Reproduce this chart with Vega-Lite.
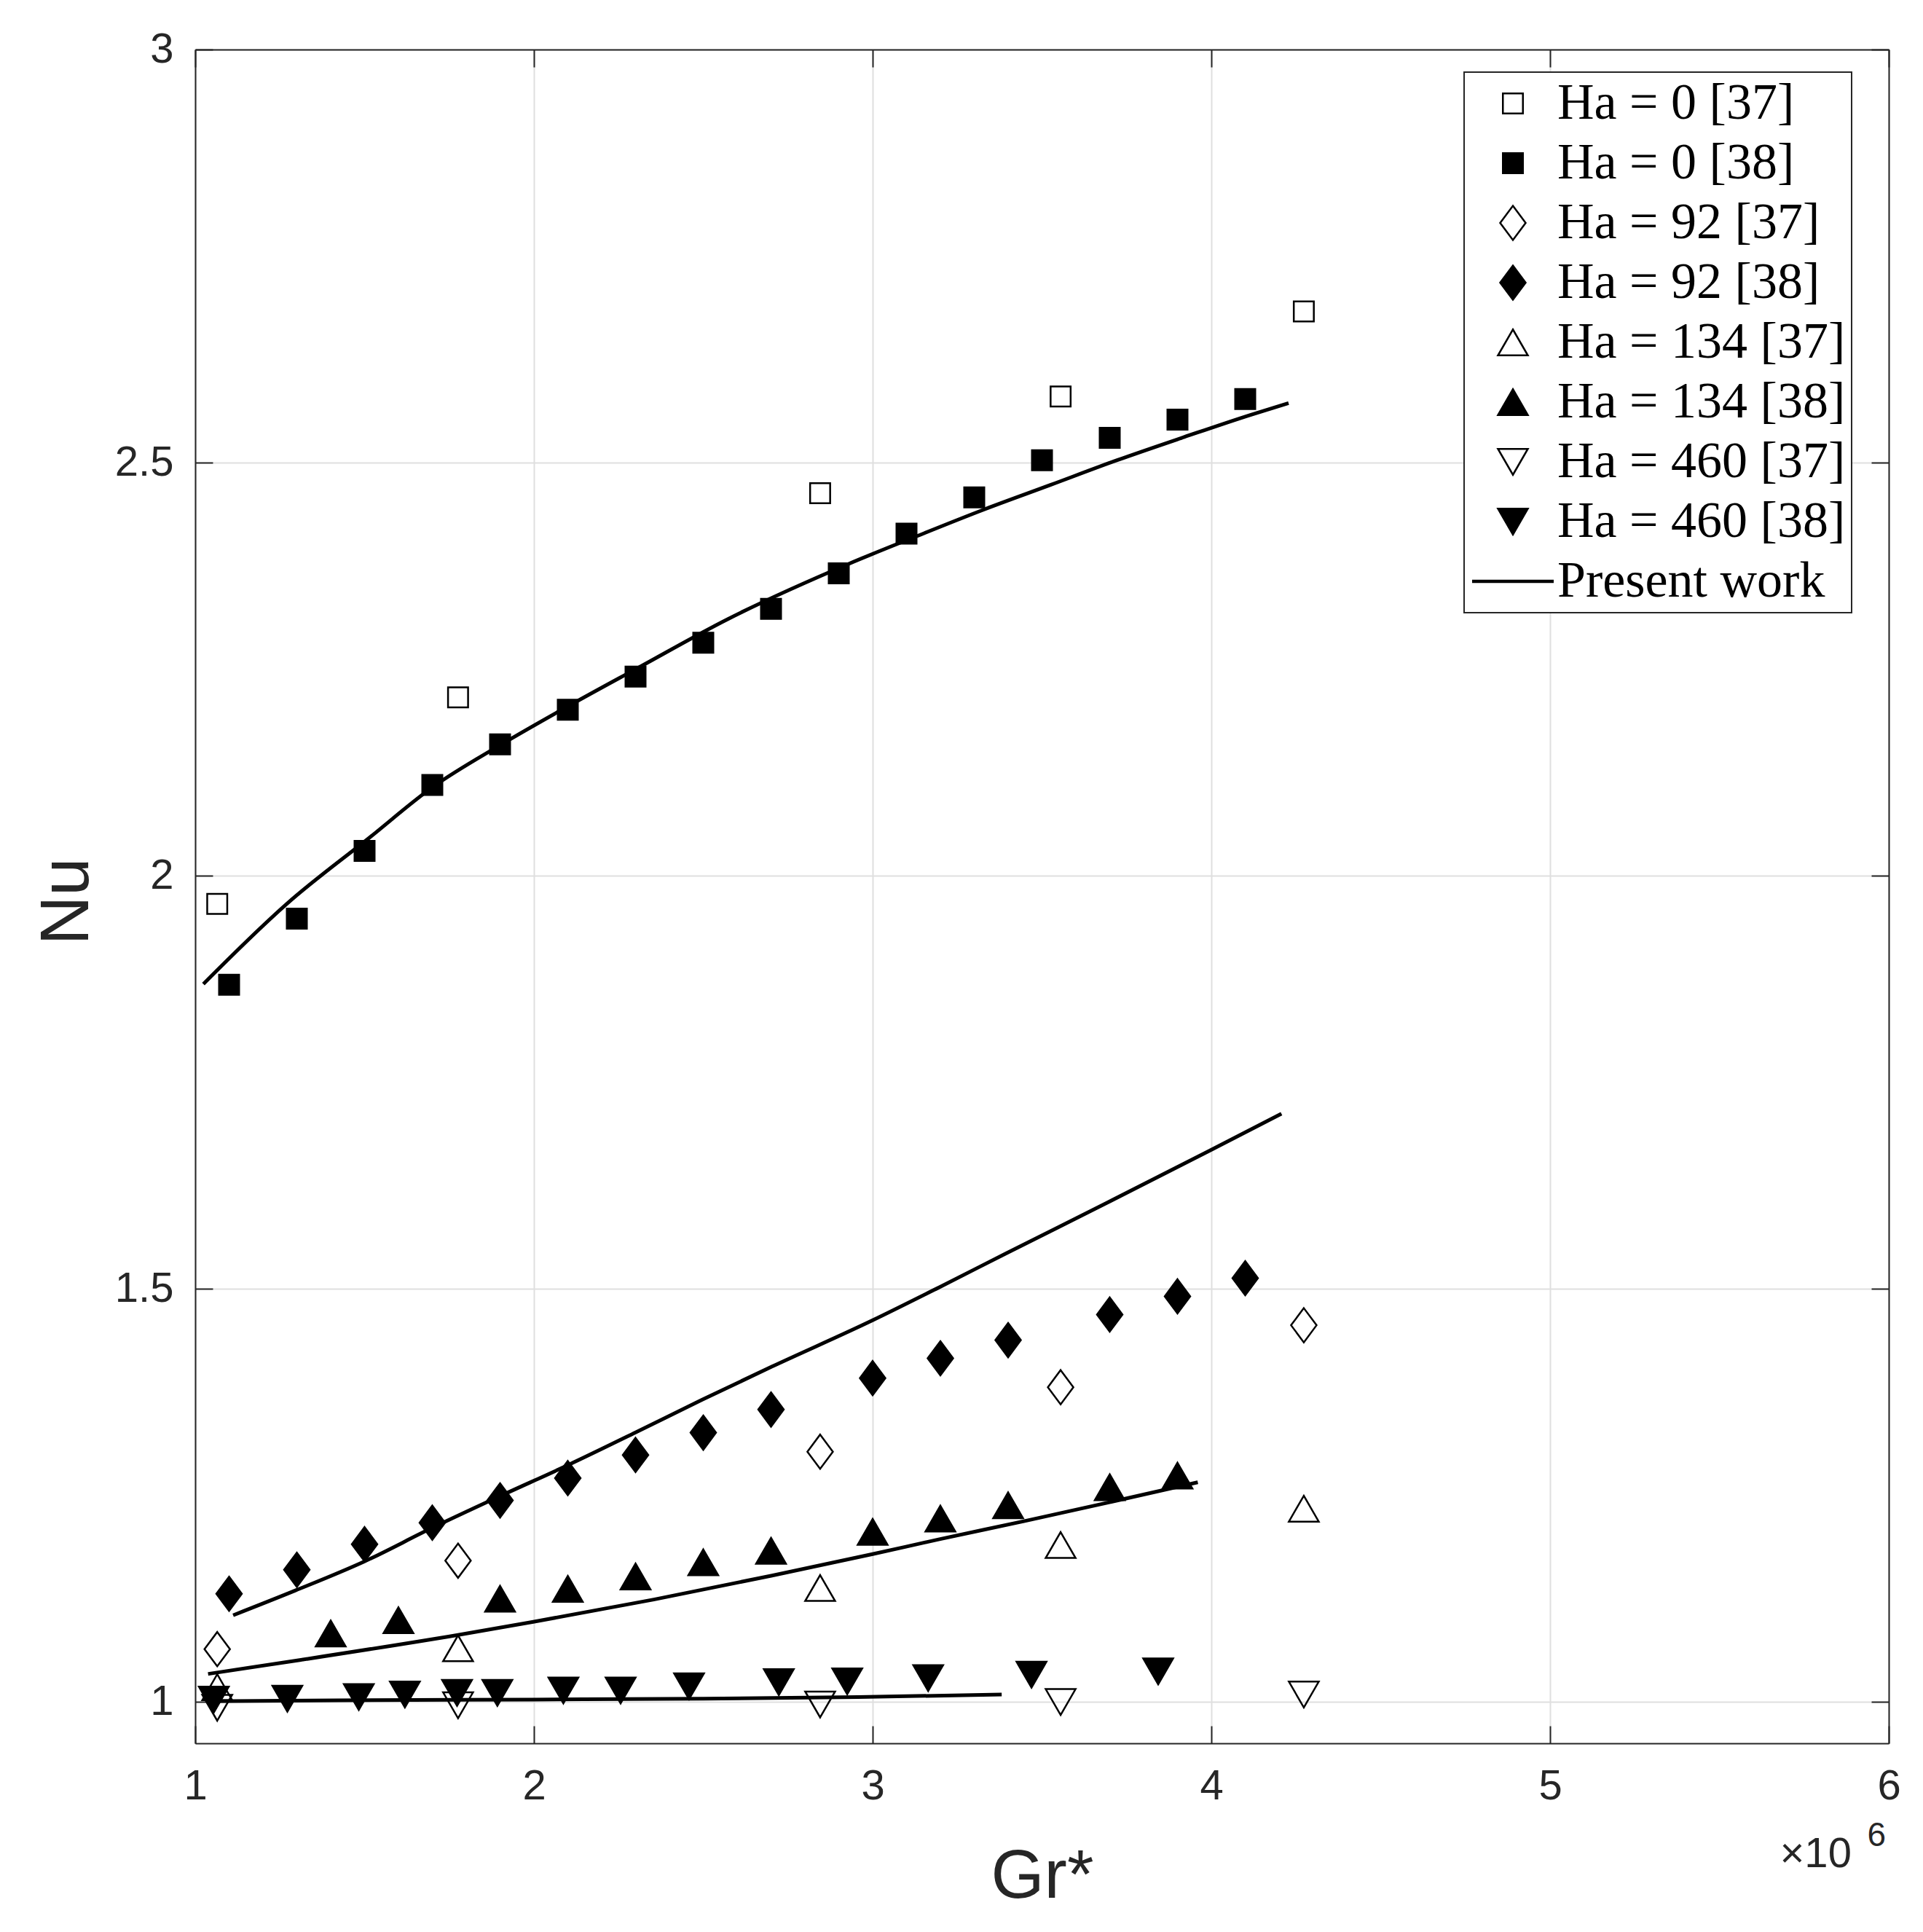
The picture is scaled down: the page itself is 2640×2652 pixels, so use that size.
{
  "$schema": "https://vega.github.io/schema/vega-lite/v6.json",
  "width": 2325,
  "height": 2325,
  "autosize": {"type": "none"},
  "padding": {"left": 268, "top": 68, "right": 47, "bottom": 259},
  "background": "white",
  "datasets": {
    "points": [
      {"series": "Ha = 0 [37]", "gr": 1.065, "nu": 1.966},
      {"series": "Ha = 0 [37]", "gr": 1.776, "nu": 2.216},
      {"series": "Ha = 0 [37]", "gr": 2.845, "nu": 2.463},
      {"series": "Ha = 0 [37]", "gr": 3.555, "nu": 2.58},
      {"series": "Ha = 0 [37]", "gr": 4.273, "nu": 2.683},
      {"series": "Ha = 0 [38]", "gr": 1.1, "nu": 1.868},
      {"series": "Ha = 0 [38]", "gr": 1.3, "nu": 1.948},
      {"series": "Ha = 0 [38]", "gr": 1.5, "nu": 2.03},
      {"series": "Ha = 0 [38]", "gr": 1.7, "nu": 2.11},
      {"series": "Ha = 0 [38]", "gr": 1.9, "nu": 2.159},
      {"series": "Ha = 0 [38]", "gr": 2.1, "nu": 2.201},
      {"series": "Ha = 0 [38]", "gr": 2.3, "nu": 2.241},
      {"series": "Ha = 0 [38]", "gr": 2.5, "nu": 2.282},
      {"series": "Ha = 0 [38]", "gr": 2.7, "nu": 2.323},
      {"series": "Ha = 0 [38]", "gr": 2.9, "nu": 2.366},
      {"series": "Ha = 0 [38]", "gr": 3.1, "nu": 2.414},
      {"series": "Ha = 0 [38]", "gr": 3.3, "nu": 2.458},
      {"series": "Ha = 0 [38]", "gr": 3.5, "nu": 2.503},
      {"series": "Ha = 0 [38]", "gr": 3.7, "nu": 2.53},
      {"series": "Ha = 0 [38]", "gr": 3.9, "nu": 2.552},
      {"series": "Ha = 0 [38]", "gr": 4.1, "nu": 2.577},
      {"series": "Ha = 92 [37]", "gr": 1.065, "nu": 1.064},
      {"series": "Ha = 92 [37]", "gr": 1.776, "nu": 1.171},
      {"series": "Ha = 92 [37]", "gr": 2.845, "nu": 1.303},
      {"series": "Ha = 92 [37]", "gr": 3.555, "nu": 1.381},
      {"series": "Ha = 92 [37]", "gr": 4.273, "nu": 1.456},
      {"series": "Ha = 92 [38]", "gr": 1.1, "nu": 1.131},
      {"series": "Ha = 92 [38]", "gr": 1.3, "nu": 1.16},
      {"series": "Ha = 92 [38]", "gr": 1.5, "nu": 1.191},
      {"series": "Ha = 92 [38]", "gr": 1.7, "nu": 1.217},
      {"series": "Ha = 92 [38]", "gr": 1.9, "nu": 1.244},
      {"series": "Ha = 92 [38]", "gr": 2.1, "nu": 1.271},
      {"series": "Ha = 92 [38]", "gr": 2.3, "nu": 1.299},
      {"series": "Ha = 92 [38]", "gr": 2.5, "nu": 1.326},
      {"series": "Ha = 92 [38]", "gr": 2.7, "nu": 1.354},
      {"series": "Ha = 92 [38]", "gr": 3.0, "nu": 1.392},
      {"series": "Ha = 92 [38]", "gr": 3.2, "nu": 1.416},
      {"series": "Ha = 92 [38]", "gr": 3.4, "nu": 1.438},
      {"series": "Ha = 92 [38]", "gr": 3.7, "nu": 1.469},
      {"series": "Ha = 92 [38]", "gr": 3.9, "nu": 1.491},
      {"series": "Ha = 92 [38]", "gr": 4.1, "nu": 1.513},
      {"series": "Ha = 134 [37]", "gr": 1.065, "nu": 1.018},
      {"series": "Ha = 134 [37]", "gr": 1.776, "nu": 1.065},
      {"series": "Ha = 134 [37]", "gr": 2.845, "nu": 1.138},
      {"series": "Ha = 134 [37]", "gr": 3.555, "nu": 1.19},
      {"series": "Ha = 134 [37]", "gr": 4.273, "nu": 1.234},
      {"series": "Ha = 134 [38]", "gr": 1.4, "nu": 1.083},
      {"series": "Ha = 134 [38]", "gr": 1.6, "nu": 1.099},
      {"series": "Ha = 134 [38]", "gr": 1.9, "nu": 1.125},
      {"series": "Ha = 134 [38]", "gr": 2.1, "nu": 1.137},
      {"series": "Ha = 134 [38]", "gr": 2.3, "nu": 1.152},
      {"series": "Ha = 134 [38]", "gr": 2.5, "nu": 1.169},
      {"series": "Ha = 134 [38]", "gr": 2.7, "nu": 1.183},
      {"series": "Ha = 134 [38]", "gr": 3.0, "nu": 1.206},
      {"series": "Ha = 134 [38]", "gr": 3.2, "nu": 1.222},
      {"series": "Ha = 134 [38]", "gr": 3.4, "nu": 1.238},
      {"series": "Ha = 134 [38]", "gr": 3.7, "nu": 1.26},
      {"series": "Ha = 134 [38]", "gr": 3.9, "nu": 1.274},
      {"series": "Ha = 460 [37]", "gr": 1.065, "nu": 0.993},
      {"series": "Ha = 460 [37]", "gr": 1.776, "nu": 0.996},
      {"series": "Ha = 460 [37]", "gr": 2.845, "nu": 0.997},
      {"series": "Ha = 460 [37]", "gr": 3.555, "nu": 1.0},
      {"series": "Ha = 460 [37]", "gr": 4.273, "nu": 1.009},
      {"series": "Ha = 460 [38]", "gr": 1.055, "nu": 1.003},
      {"series": "Ha = 460 [38]", "gr": 1.272, "nu": 1.004},
      {"series": "Ha = 460 [38]", "gr": 1.483, "nu": 1.006},
      {"series": "Ha = 460 [38]", "gr": 1.619, "nu": 1.009},
      {"series": "Ha = 460 [38]", "gr": 1.773, "nu": 1.011},
      {"series": "Ha = 460 [38]", "gr": 1.892, "nu": 1.011},
      {"series": "Ha = 460 [38]", "gr": 2.087, "nu": 1.014},
      {"series": "Ha = 460 [38]", "gr": 2.256, "nu": 1.014},
      {"series": "Ha = 460 [38]", "gr": 2.458, "nu": 1.019},
      {"series": "Ha = 460 [38]", "gr": 2.723, "nu": 1.024},
      {"series": "Ha = 460 [38]", "gr": 2.925, "nu": 1.025},
      {"series": "Ha = 460 [38]", "gr": 3.164, "nu": 1.029},
      {"series": "Ha = 460 [38]", "gr": 3.469, "nu": 1.033},
      {"series": "Ha = 460 [38]", "gr": 3.843, "nu": 1.037}
    ],
    "lines": [
      {"curve": "Ha = 0", "gr": 1.024, "nu": 1.869},
      {"curve": "Ha = 0", "gr": 1.273, "nu": 1.967},
      {"curve": "Ha = 0", "gr": 1.514, "nu": 2.046},
      {"curve": "Ha = 0", "gr": 1.7, "nu": 2.107},
      {"curve": "Ha = 0", "gr": 1.9, "nu": 2.158},
      {"curve": "Ha = 0", "gr": 2.1, "nu": 2.205},
      {"curve": "Ha = 0", "gr": 2.3, "nu": 2.25},
      {"curve": "Ha = 0", "gr": 2.574, "nu": 2.311},
      {"curve": "Ha = 0", "gr": 2.932, "nu": 2.378},
      {"curve": "Ha = 0", "gr": 3.13, "nu": 2.411},
      {"curve": "Ha = 0", "gr": 3.327, "nu": 2.443},
      {"curve": "Ha = 0", "gr": 3.525, "nu": 2.473},
      {"curve": "Ha = 0", "gr": 3.722, "nu": 2.503},
      {"curve": "Ha = 0", "gr": 3.92, "nu": 2.531},
      {"curve": "Ha = 0", "gr": 4.117, "nu": 2.558},
      {"curve": "Ha = 0", "gr": 4.228, "nu": 2.572},
      {"curve": "Ha = 92", "gr": 1.112, "nu": 1.105},
      {"curve": "Ha = 92", "gr": 1.296, "nu": 1.135},
      {"curve": "Ha = 92", "gr": 1.499, "nu": 1.17},
      {"curve": "Ha = 92", "gr": 1.696, "nu": 1.21},
      {"curve": "Ha = 92", "gr": 1.899, "nu": 1.249},
      {"curve": "Ha = 92", "gr": 2.102, "nu": 1.287},
      {"curve": "Ha = 92", "gr": 2.299, "nu": 1.326},
      {"curve": "Ha = 92", "gr": 2.497, "nu": 1.366},
      {"curve": "Ha = 92", "gr": 2.703, "nu": 1.406},
      {"curve": "Ha = 92", "gr": 3.0, "nu": 1.462},
      {"curve": "Ha = 92", "gr": 3.197, "nu": 1.502},
      {"curve": "Ha = 92", "gr": 3.394, "nu": 1.543},
      {"curve": "Ha = 92", "gr": 3.691, "nu": 1.604},
      {"curve": "Ha = 92", "gr": 3.998, "nu": 1.668},
      {"curve": "Ha = 92", "gr": 4.207, "nu": 1.712},
      {"curve": "Ha = 134", "gr": 1.038, "nu": 1.034},
      {"curve": "Ha = 134", "gr": 1.312, "nu": 1.051},
      {"curve": "Ha = 134", "gr": 1.773, "nu": 1.081},
      {"curve": "Ha = 134", "gr": 1.998, "nu": 1.097},
      {"curve": "Ha = 134", "gr": 2.354, "nu": 1.124},
      {"curve": "Ha = 134", "gr": 2.703, "nu": 1.153},
      {"curve": "Ha = 134", "gr": 3.0, "nu": 1.179},
      {"curve": "Ha = 134", "gr": 3.197, "nu": 1.197},
      {"curve": "Ha = 134", "gr": 3.449, "nu": 1.219},
      {"curve": "Ha = 134", "gr": 3.724, "nu": 1.244},
      {"curve": "Ha = 134", "gr": 3.96, "nu": 1.266},
      {"curve": "Ha = 460", "gr": 1.038, "nu": 1.001},
      {"curve": "Ha = 460", "gr": 1.421, "nu": 1.002},
      {"curve": "Ha = 460", "gr": 2.0, "nu": 1.003},
      {"curve": "Ha = 460", "gr": 2.5, "nu": 1.004},
      {"curve": "Ha = 460", "gr": 2.957, "nu": 1.006},
      {"curve": "Ha = 460", "gr": 3.381, "nu": 1.009}
    ]
  },
  "config": {
    "view": {"stroke": null},
    "axis": {
      "domainColor": "#262626",
      "domainWidth": 2,
      "tickColor": "#262626",
      "tickWidth": 2,
      "tickSize": -24,
      "labelFont": "Liberation Sans",
      "labelFontSize": 58,
      "labelColor": "#262626",
      "labelPadding": 54,
      "labelFlush": false,
      "labelOverlap": false,
      "labelBound": false,
      "titleFont": "Liberation Sans",
      "titleFontSize": 94,
      "titleColor": "#262626",
      "titleFontWeight": "normal",
      "gridColor": "#dfdfdf",
      "gridWidth": 2,
      "gridOpacity": 1
    },
    "legend": {"strokeWidth": 2}
  },
  "layer": [
    {
      "data": {"name": "points"},
      "mark": {"type": "point", "size": 100, "strokeWidth": 2.5, "opacity": 1},
      "encoding": {
        "x": {
          "field": "gr", "type": "quantitative",
          "scale": {"domain": [1, 6], "nice": false, "zero": false},
          "axis": {"orient": "bottom", "values": [1, 2, 3, 4, 5, 6], "format": "~g", "grid": true,
                   "title": "Gr*", "titleY": 211, "titleBaseline": "alphabetic"}
        },
        "y": {
          "field": "nu", "type": "quantitative",
          "scale": {"domain": [0.95, 3], "nice": false, "zero": false},
          "axis": {"orient": "left", "values": [1, 1.5, 2, 2.5, 3], "format": "~g", "grid": true,
                   "title": "Nu", "titleX": -148, "titleY": 1169, "titleAngle": 270,
                   "titleBaseline": "alphabetic", "titleAlign": "center"}
        },
        "shape": {
          "field": "series", "type": "nominal",
          "scale": {
            "domain": ["Ha = 0 [37]", "Ha = 0 [38]", "Ha = 92 [37]", "Ha = 92 [38]", "Ha = 134 [37]", "Ha = 134 [38]", "Ha = 460 [37]", "Ha = 460 [38]", "Present work"],
            "range": [
              "M-2.75,-2.75H2.75V2.75H-2.75Z",
              "M-2.75,-2.75H2.75V2.75H-2.75Z",
              "M0,-4.7L3.5,0L0,4.7L-3.5,0Z",
              "M0,-4.7L3.5,0L0,4.7L-3.5,0Z",
              "M0,-3.55L4.1,3.55L-4.1,3.55Z",
              "M0,-3.55L4.1,3.55L-4.1,3.55Z",
              "M0,3.55L4.1,-3.55L-4.1,-3.55Z",
              "M0,3.55L4.1,-3.55L-4.1,-3.55Z",
              "M-10.95,-0.2H10.95V0.2H-10.95Z"
            ]
          },
          "legend": {
            "title": null, "orient": "none", "legendX": 1742, "legendY": 31,
            "padding": 8, "rowPadding": 12, "symbolOffset": 24, "labelOffset": 26,
            "labelFont": "Liberation Serif", "labelFontSize": 70, "labelColor": "black",
            "labelLimit": 2000, "strokeColor": "#262626", "fillColor": "white",
            "symbolSize": 100, "symbolStrokeWidth": 2.5, "symbolOpacity": 1
          }
        },
        "fill": {
          "field": "series", "type": "nominal",
          "scale": {
            "domain": ["Ha = 0 [37]", "Ha = 0 [38]", "Ha = 92 [37]", "Ha = 92 [38]", "Ha = 134 [37]", "Ha = 134 [38]", "Ha = 460 [37]", "Ha = 460 [38]", "Present work"],
            "range": ["transparent", "black", "transparent", "black", "transparent", "black", "transparent", "black", "black"]
          },
          "legend": {
            "title": null, "orient": "none", "legendX": 1742, "legendY": 31,
            "padding": 8, "rowPadding": 12, "symbolOffset": 24, "labelOffset": 26,
            "labelFont": "Liberation Serif", "labelFontSize": 70, "labelColor": "black",
            "labelLimit": 2000, "strokeColor": "#262626", "fillColor": "white",
            "symbolSize": 100, "symbolStrokeWidth": 2.5, "symbolOpacity": 1
          }
        },
        "stroke": {
          "field": "series", "type": "nominal",
          "scale": {
            "domain": ["Ha = 0 [37]", "Ha = 0 [38]", "Ha = 92 [37]", "Ha = 92 [38]", "Ha = 134 [37]", "Ha = 134 [38]", "Ha = 460 [37]", "Ha = 460 [38]", "Present work"],
            "range": ["black", "black", "black", "black", "black", "black", "black", "black", "black"]
          },
          "legend": {
            "title": null, "orient": "none", "legendX": 1742, "legendY": 31,
            "padding": 8, "rowPadding": 12, "symbolOffset": 24, "labelOffset": 26,
            "labelFont": "Liberation Serif", "labelFontSize": 70, "labelColor": "black",
            "labelLimit": 2000, "strokeColor": "#262626", "fillColor": "white",
            "symbolSize": 100, "symbolStrokeWidth": 2.5, "symbolOpacity": 1
          }
        }
      }
    },
    {
      "data": {"name": "lines"},
      "mark": {"type": "line", "color": "black", "strokeWidth": 5, "interpolate": "monotone"},
      "encoding": {
        "x": {
          "field": "gr", "type": "quantitative",
          "scale": {"domain": [1, 6], "nice": false, "zero": false},
          "axis": {"orient": "top", "values": [1, 2, 3, 4, 5, 6], "labels": false, "grid": false,
                   "title": "×10", "titleX": 2175, "titleY": 2494, "titleAlign": "left",
                   "titleBaseline": "alphabetic", "titleFontSize": 58, "titleAngle": 0}
        },
        "y": {
          "field": "nu", "type": "quantitative",
          "scale": {"domain": [0.95, 3], "nice": false, "zero": false},
          "axis": {"orient": "right", "values": [1, 1.5, 2, 2.5, 3], "labels": false, "grid": false,
                   "title": "6", "titleX": -30, "titleY": 2465, "titleAlign": "left",
                   "titleBaseline": "alphabetic", "titleFontSize": 46, "titleAngle": 0}
        },
        "detail": {"field": "curve", "type": "nominal"}
      }
    }
  ],
  "resolve": {"axis": {"x": "independent", "y": "independent"}}
}
